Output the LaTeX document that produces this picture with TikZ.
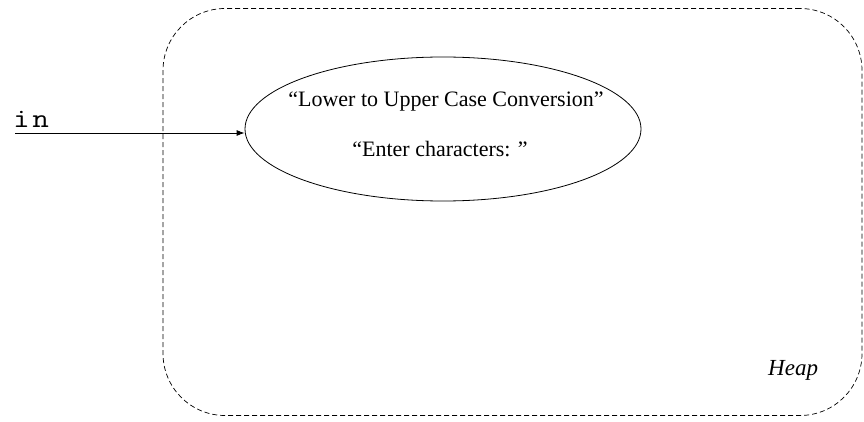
\documentclass[tikz,border=0pt]{standalone}
\usepackage{fontspec}
\setmainfont{Liberation Serif}
\usetikzlibrary{shapes.geometric,arrows.meta}
\tikzset{
  heapbox/.style={draw, dashed, dash pattern=on 5pt off 3pt, line width=0.7pt, rounded corners=62pt, minimum width=699pt, minimum height=407pt, inner sep=0pt},
  obj/.style={draw, ellipse, line width=0.8pt, minimum width=396pt, minimum height=144pt, inner sep=0pt},
  str/.style={font=\fontsize{22}{24}\selectfont, inner sep=0pt, anchor=base},
  lbl/.style={inner sep=0pt, anchor=base west},
  ref/.style={-{Latex[length=8pt,width=6pt]}, line width=0.8pt}
}
\begin{document}
\begin{tikzpicture}[x=1pt,y=-1pt]
\useasboundingbox (0,0) rectangle (864,422);
\node[heapbox] (heap) at (512.5,212) {};
\node[obj] (ellobj) at (443,129) {};
\node[str] (s1) at (446,107) {“Lower to Upper Case Conversion”};
\node[str] (s2) at (440,157) {“Enter characters: ”};
\node[lbl, font=\fontsize{27}{29}\ttfamily] (in) at (13,128) {\scalebox{1.2}[1]{i\kern2pt n}};
\node[lbl, font=\fontsize{23}{25}\selectfont\itshape] (heaplbl) at (768,375) {Heap};
\coordinate (start) at (15,133);
\draw[ref] (start) -- (ellobj.west |- start);
\end{tikzpicture}
\end{document}
